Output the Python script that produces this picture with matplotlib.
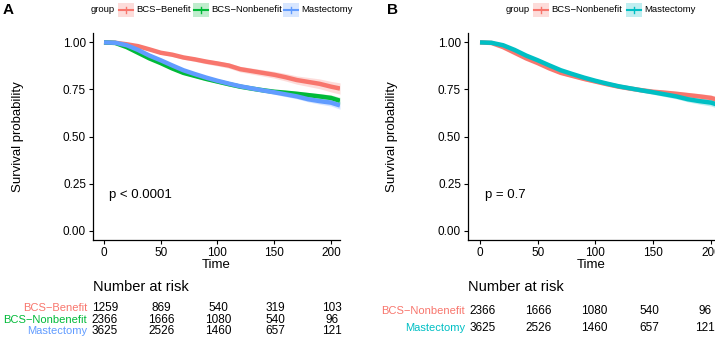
import matplotlib
matplotlib.use('Agg')
import matplotlib.pyplot as plt
from matplotlib.patches import Rectangle
from matplotlib.lines import Line2D
import numpy as np

plt.rcParams['font.family'] = ['Liberation Sans', 'DejaVu Sans']

# survival estimates
time = [0, 10, 20, 30, 40, 50, 60, 70, 80, 90, 100, 110, 120, 130, 140,
        150, 160, 170, 180, 190, 200, 208]
surv_benefit = [1.0, 0.998, 0.99, 0.98, 0.963, 0.945, 0.935, 0.92, 0.91, 0.898,
                0.888, 0.877, 0.858, 0.848, 0.838, 0.828, 0.815, 0.80, 0.79,
                0.78, 0.765, 0.755]
surv_nonbenefit = [1.0, 0.997, 0.975, 0.945, 0.915, 0.89, 0.862, 0.838, 0.822,
                   0.806, 0.792, 0.778, 0.765, 0.755, 0.746, 0.738, 0.733,
                   0.727, 0.72, 0.713, 0.705, 0.69]
surv_mastectomy = [1.0, 0.998, 0.985, 0.96, 0.93, 0.905, 0.878, 0.852, 0.832,
                   0.813, 0.796, 0.781, 0.767, 0.756, 0.745, 0.735, 0.724,
                   0.713, 0.698, 0.688, 0.68, 0.665]
# half width of the confidence band
ci_benefit = [0.0, 0.003, 0.005, 0.006, 0.007, 0.008, 0.009, 0.01, 0.011, 0.012,
              0.013, 0.014, 0.015, 0.016, 0.017, 0.018, 0.02, 0.022, 0.024,
              0.026, 0.028, 0.03]
ci_nonbenefit = [0.0, 0.002, 0.004, 0.005, 0.006, 0.007, 0.007, 0.008, 0.008,
                 0.009, 0.009, 0.01, 0.01, 0.011, 0.011, 0.012, 0.012, 0.013,
                 0.014, 0.015, 0.016, 0.018]
ci_mastectomy = [0.0, 0.002, 0.003, 0.004, 0.005, 0.006, 0.006, 0.007, 0.007,
                 0.008, 0.008, 0.009, 0.009, 0.01, 0.01, 0.011, 0.012, 0.013,
                 0.014, 0.016, 0.018, 0.02]

risk_times = [0, 50, 100, 150, 200]
risk_benefit = [1259, 869, 540, 319, 103]
risk_nonbenefit = [2366, 1666, 1080, 540, 96]
risk_mastectomy = [3625, 2526, 1460, 657, 121]

RED, GREEN, BLUE, TEAL = '#F8766D', '#00BA38', '#619CFF', '#00BFC4'

panelA = [('BCS\u2212Benefit', surv_benefit, ci_benefit, risk_benefit, RED),
          ('BCS\u2212Nonbenefit', surv_nonbenefit, ci_nonbenefit, risk_nonbenefit, GREEN),
          ('Mastectomy', surv_mastectomy, ci_mastectomy, risk_mastectomy, BLUE)]
panelB = [('BCS\u2212Nonbenefit', surv_nonbenefit, ci_nonbenefit, risk_nonbenefit, RED),
          ('Mastectomy', surv_mastectomy, ci_mastectomy, risk_mastectomy, TEAL)]

W, H = 715, 337
fig = plt.figure(figsize=(W / 100, H / 100), dpi=100)


def fx(px):
    return px / W


def fy(py):
    return 1 - py / H


def draw_panel(groups, left, right, xlim, pval, tag, tag_x, ylab_x,
               lab_right, group_x, key_xs, risk_rows, risk_x0, risk_scale):
    ax = fig.add_axes([fx(left), fy(240), fx(right - left), fy(33) - fy(240)])
    for name, s, ci, risk, col in groups:
        s = np.array(s)
        ci = np.array(ci)
        ax.fill_between(time, s - ci, s + ci, color=col, alpha=0.25, lw=0)
        ax.plot(time, s, color=col, lw=3.2, solid_capstyle='butt')
    ax.set_xlim(*xlim)
    ax.set_ylim(-0.05, 1.05)
    ax.set_xticks([0, 50, 100, 150, 200])
    ax.set_yticks([0, 0.25, 0.5, 0.75, 1.0])
    ax.set_yticklabels(['0.00', '0.25', '0.50', '0.75', '1.00'])
    for sp in ['top', 'right']:
        ax.spines[sp].set_visible(False)
    for sp in ['left', 'bottom']:
        ax.spines[sp].set_linewidth(0.9)
    ax.tick_params(direction='out', length=3, width=0.8, labelsize=8.5,
                   colors='black', pad=2)
    ax.set_xlabel('Time', fontsize=9.5, labelpad=0)
    ax.text(4.5, 0.19, pval, fontsize=9.5, va='center', ha='left')
    fig.text(fx(ylab_x), fy(137), 'Survival probability', rotation=90,
             fontsize=9.5, ha='center', va='center')
    fig.text(fx(tag_x), fy(10), tag, fontsize=11, fontweight='bold',
             ha='left', va='center')

    # legend
    fig.text(fx(group_x), fy(10), 'group', fontsize=6.8, ha='left',
             va='center')
    for (name, s, ci, risk, col), x in zip(groups, key_xs):
        fig.add_artist(Rectangle((fx(x), fy(17)), fx(16), fy(3) - fy(17),
                                 transform=fig.transFigure, color=col,
                                 alpha=0.25, lw=0))
        fig.add_artist(Line2D([fx(x + 1), fx(x + 15)], [fy(10), fy(10)],
                              transform=fig.transFigure, color=col, lw=1.5))
        fig.add_artist(Line2D([fx(x + 8), fx(x + 8)], [fy(7), fy(13)],
                              transform=fig.transFigure, color=col, lw=1))
        fig.text(fx(x + 18), fy(10), name, fontsize=6.8, ha='left',
                 va='center')

    # risk table
    fig.text(fx(left), fy(287), 'Number at risk', fontsize=10.5, ha='left',
             va='center')
    for (name, s, ci, risk, col), ry in zip(groups, risk_rows):
        fig.text(fx(lab_right), fy(ry), name, color=col, fontsize=8,
                 ha='right', va='center')
        for rt, n in zip(risk_times, risk):
            fig.text(fx(risk_x0 + rt * risk_scale), fy(ry), str(n),
                     fontsize=8.5, ha='center', va='center')
    return ax


draw_panel(panelA, 93, 340, (-9.7, 208), 'p < 0.0001', 'A', 3, 18, 87,
           91, [118, 193, 283], [308, 320, 331], 105, 1.135)
draw_panel(panelB, 468, 715, (-10.4, 203.5), 'p = 0.7', 'B', 387, 392, 465,
           506, [533, 626], [311, 328], 483, 1.11)

fig.savefig('out.png', dpi=100)
